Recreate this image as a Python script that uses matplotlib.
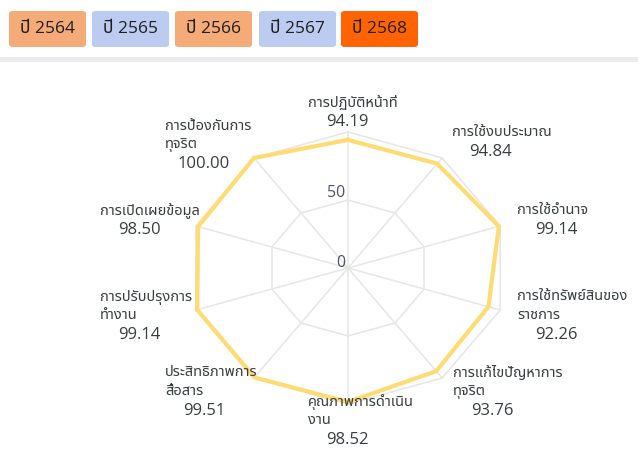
import numpy as np
import matplotlib
matplotlib.use("Agg")
import matplotlib.pyplot as plt
from matplotlib.patches import FancyBboxPatch, Rectangle

plt.rcParams["font.family"] = ["Open Sans", "Noto Sans Thai", "DejaVu Sans"]

# ข้อมูล
years = ["ปี 2564", "ปี 2565", "ปี 2566", "ปี 2567", "ปี 2568"]
year_colors = ["#f5ab77", "#bccbf0", "#f5ab77", "#bccbf0", "#ff6302"]

categories = [
    "การปฏิบัติหน้าที่",
    "การใช้งบประมาณ",
    "การใช้อำนาจ",
    "การใช้ทรัพย์สินของ\nราชการ",
    "การแก้ไขปัญหาการ\nทุจริต",
    "คุณภาพการดำเนิน\nงาน",
    "ประสิทธิภาพการ\nสื่อสาร",
    "การปรับปรุงการ\nทำงาน",
    "การเปิดเผยข้อมูล",
    "การป้องกันการ\nทุจริต",
]
scores = [94.19, 94.84, 99.14, 92.26, 93.76, 98.52, 99.51, 99.14, 98.50, 100.00]
ring_levels = [50, 100]

# posizione testo (pixel, alto-sinistra) per ogni etichetta: (x sinistra, y prima riga)
label_px = [(308, 103), (452, 133), (517, 211), (517, 297), (453, 373),
            (308, 402), (165, 373), (100, 297), (100, 211), (165, 126)]

W, H = 638, 450
CX, CY = 348, 268          # centro radar in pixel
SX, SY = 1.60, 1.36        # pixel per unita' (il grafico e' schiacciato)

fig = plt.figure(figsize=(W / 100, H / 100), dpi=100)
ax = fig.add_axes([0, 0, 1, 1])
ax.set_xlim(-CX / SX, (W - CX) / SX)
ax.set_ylim(-(H - CY) / SY, CY / SY)
ax.axis("off")

n = len(scores)
theta = np.arange(n) * 2 * np.pi / n

# griglia
for lv in ring_levels:
    xs = lv * np.sin(np.append(theta, theta[0]))
    ys = lv * np.cos(np.append(theta, theta[0]))
    ax.plot(xs, ys, color="#e6e6e6", lw=1.1, zorder=1)
for t in theta:
    ax.plot([0, 100 * np.sin(t)], [0, 100 * np.cos(t)], color="#e6e6e6", lw=1.1, zorder=1)

# serie
s = np.array(scores + scores[:1])
tt = np.append(theta, theta[0])
ax.plot(s * np.sin(tt), s * np.cos(tt), color="#ffdc73", lw=3, zorder=3,
        solid_joinstyle="miter")

# tick radiali
ax.text(-1.5, 55, "50", ha="right", va="center", fontsize=11.5, color="#4b5563")
ax.text(-1.5, 4, "0", ha="right", va="center", fontsize=11.5, color="#4b5563")

# etichette
for (px, py), name, val in zip(label_px, categories, scores):
    lines = name.split("\n")
    for i, ln in enumerate(lines):
        fig.text(px / W, 1 - (py + i * 18.5) / H, ln, ha="left", va="center",
                 fontsize=10.5, color="#373d3f")
    vy = py + len(lines) * 18.5 + 1
    fig.text((px + 39) / W, 1 - vy / H, f"{val:.2f}", ha="center", va="center",
             fontsize=12, color="#373d3f")

# pulsanti anni
bx = [9, 92, 175, 259, 341]
for x0, lab, c in zip(bx, years, year_colors):
    fig.patches.append(FancyBboxPatch((x0 / W, 1 - 47 / H), 77 / W, 36 / H,
                                      boxstyle="round,pad=0,rounding_size=0.006",
                                      transform=fig.transFigure, fc=c, ec="none"))
    fig.text((x0 + 38.5) / W, 1 - 29 / H, lab, ha="center", va="center",
             fontsize=12.5, color="#1f1f1f")

# barra grigia
fig.patches.append(Rectangle((0, 1 - 62 / H), 1, 5 / H, transform=fig.transFigure,
                             fc="#ebebeb", ec="none"))

fig.savefig("out.png", dpi=100)
